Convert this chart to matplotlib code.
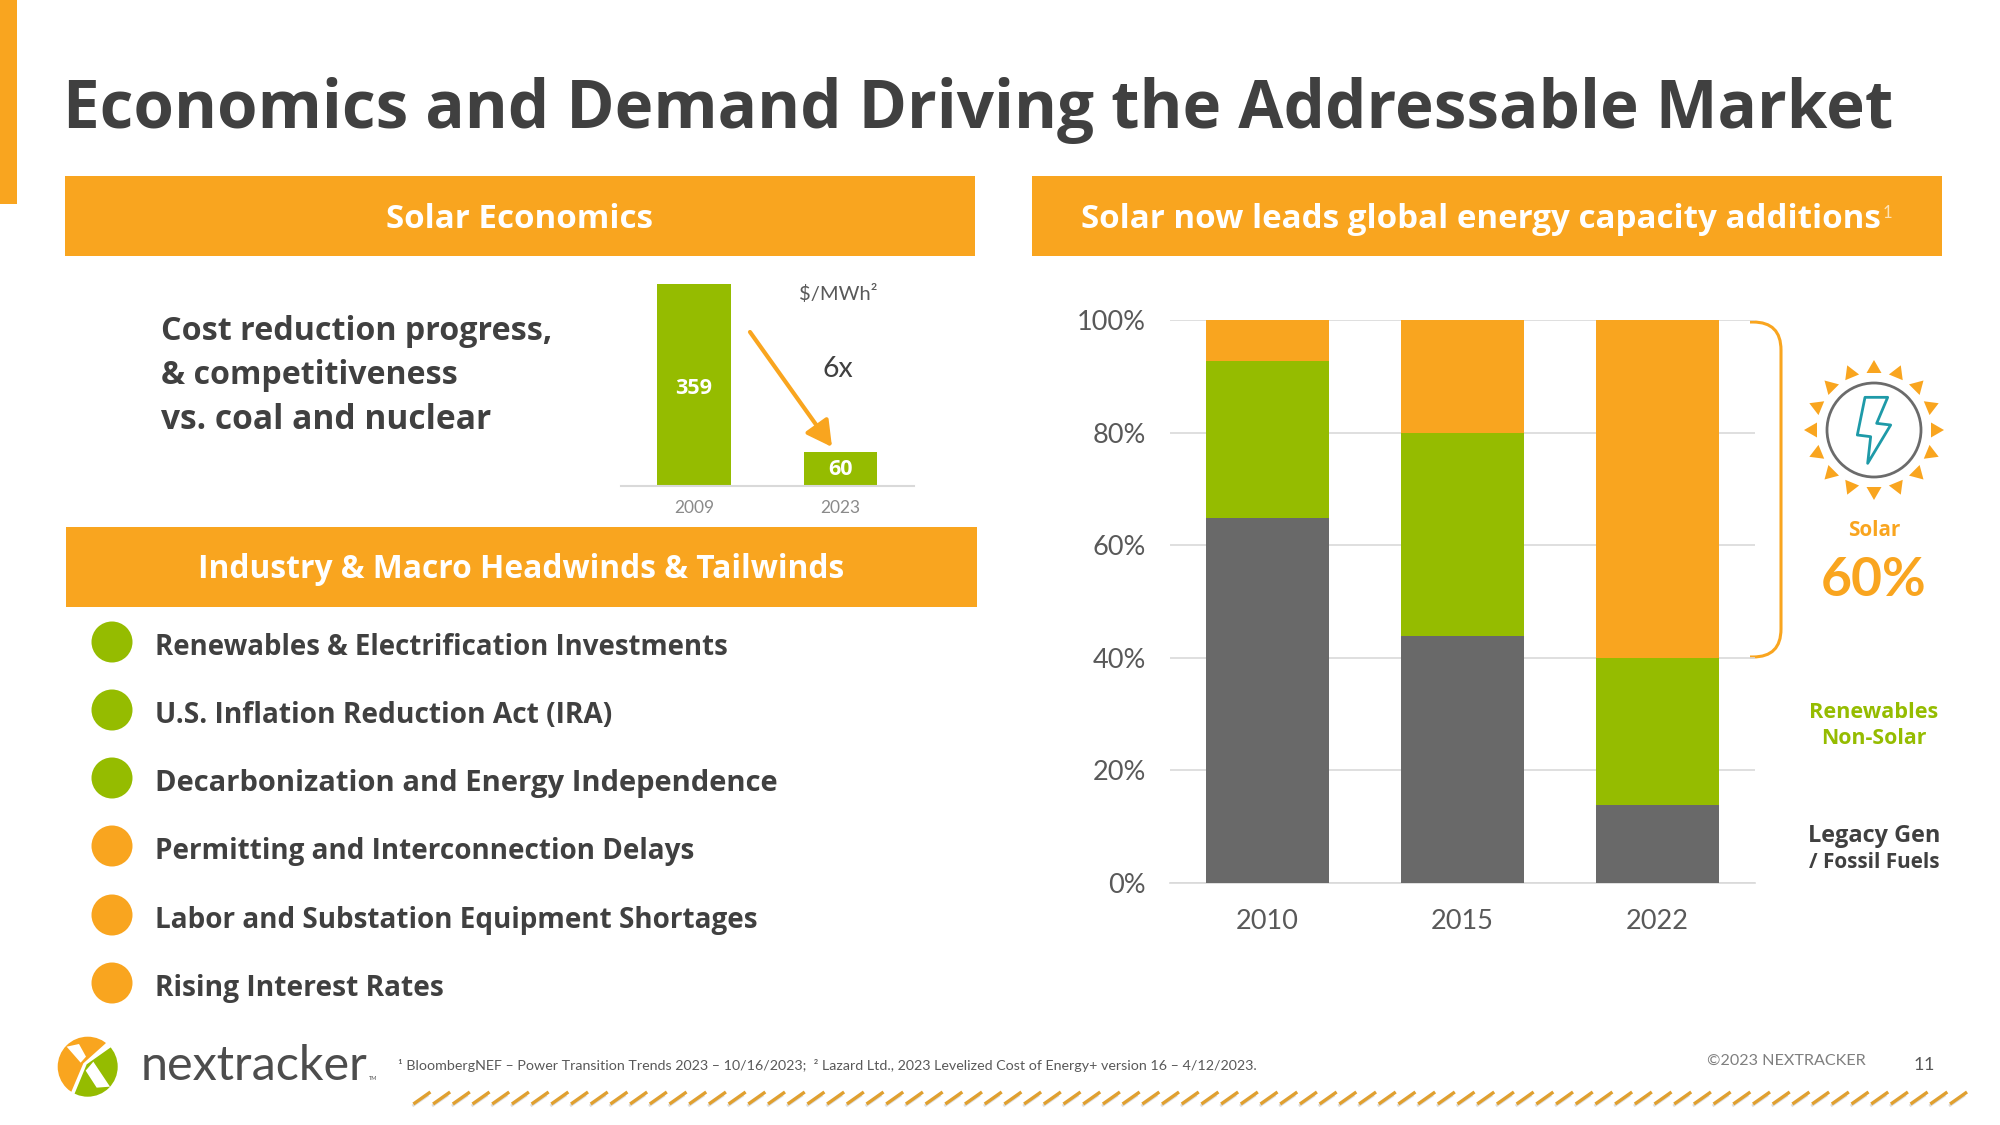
import numpy as np
import matplotlib
matplotlib.use("Agg")
import matplotlib.pyplot as plt
from matplotlib.patches import Rectangle, Circle, Polygon, PathPatch, FancyArrowPatch
from matplotlib.path import Path
from matplotlib.collections import LineCollection

# ---- data ----
years = ["2010", "2015", "2022"]
fossil = [64.8, 43.8, 13.8]
renewables = [27.9, 36.2, 26.2]
solar = [7.3, 20, 60]
pct_ticks = [0, 20, 40, 60, 80, 100]
lcoe_years = ["2009", "2023"]
lcoe_values = [359, 60]
lcoe_label_y = [174, 30]
positive_items = ["Renewables & Electrification Investments",
                  "U.S. Inflation Reduction Act (IRA)",
                  "Decarbonization and Energy Independence"]
negative_items = ["Permitting and Interconnection Delays",
                  "Labor and Substation Equipment Shortages",
                  "Rising Interest Rates"]
positive_widths = [572, 457, 622]
negative_widths = [540, 602, 289]

ORANGE = "#F9A51F"
GREEN = "#95BC00"
GREY = "#696969"
DARK = "#404040"
MID = "#595959"
TEAL = "#1E9AA8"
W, H = 2000, 1125

fig = plt.figure(figsize=(20, 11.25), dpi=100, facecolor="white")
renderer = fig.canvas.get_renderer()


def axes_px(x0, y0, x1, y1, **kw):
    return fig.add_axes([x0 / W, 1 - y1 / H, (x1 - x0) / W, (y1 - y0) / H], **kw)


bg = axes_px(0, 0, W, H)
bg.set_xlim(0, W)
bg.set_ylim(H, 0)
bg.axis("off")


def label(x, y, s, width=None, size=20, color=DARK, ha="center", va="center",
          family="Lato", weight="normal", ax=bg, **kw):
    t = ax.text(x, y, s, fontsize=size, color=color, ha=ha, va=va,
                family=family, weight=weight, **kw)
    if width:
        t.set_fontsize(size * width / t.get_window_extent(renderer).width)
    return t


# ---- frame ----
bg.add_patch(Rectangle((0, 0), 17, 204, color=ORANGE, lw=0))
for x0, y0, x1, y1 in [(65, 176, 975, 256), (1032, 176, 1942, 256), (66, 527, 977, 607)]:
    bg.add_patch(Rectangle((x0, y0), x1 - x0, y1 - y0, color=ORANGE, lw=0))

label(63, 128, "Economics and Demand Driving the Addressable Market", width=1830, ha="left",
      va="baseline", family="Open Sans", weight="bold")
label(519, 219.5, "Solar Economics", width=267, color="white", family="Open Sans", weight="bold")
label(1480.5, 220, "Solar now leads global energy capacity additions", width=801, color="white",
      family="Open Sans", weight="bold")
label(1887, 213, "1", size=12, color="#fde3b8", family="Lato")
label(521.5, 569.5, "Industry & Macro Headwinds & Tailwinds", width=645, color="white",
      family="Open Sans", weight="bold")

# ---- cost block ----
for y, s, w in [(332, "Cost reduction progress,", 391), (376, "& competitiveness", 296),
                (420, "vs. coal and nuclear", 330)]:
    label(161, y, s, width=w, ha="left", family="Open Sans", weight="bold")

ax_small = axes_px(620.5, 270, 914, 486)
ax_small.set_facecolor("none")
x_small = np.arange(len(lcoe_years))
ax_small.bar(x_small, lcoe_values, width=0.5, color=GREEN)
ax_small.set_xlim(-0.5, 1.5)
ax_small.set_ylim(0, 384)
ax_small.set_yticks([])
ax_small.set_xticks(x_small, lcoe_years, fontsize=12.5, color="#8a8a8a", family="Lato")
ax_small.tick_params(axis="x", length=0, pad=10)
for s in ["top", "left", "right"]:
    ax_small.spines[s].set_visible(False)
ax_small.spines["bottom"].set_color("#d9d9d9")
ax_small.spines["bottom"].set_linewidth(1.5)
for xi, v, ly in zip(x_small, lcoe_values, lcoe_label_y):
    ax_small.text(xi, ly, str(v), color="white", ha="center", va="center",
                  fontsize=15.5, family="Open Sans", weight="bold")

label(838, 294, r"\$/MWh²", size=14.5, color=MID)
label(838, 369, "6x", size=20.5, color=DARK)
bg.add_patch(FancyArrowPatch((750, 332), (832, 447), arrowstyle="-|>,head_length=11,head_width=6",
                             color=ORANGE, lw=3, mutation_scale=1.4, shrinkA=0, shrinkB=0, zorder=5))

# ---- bullets ----
bullet_y = [642, 710, 778, 846, 915, 983]
items = positive_items + negative_items
widths = positive_widths + negative_widths
cols = [GREEN] * len(positive_items) + [ORANGE] * len(negative_items)
for y, s, w, c in zip(bullet_y, items, widths, cols):
    bg.add_patch(Circle((112, y), 20.5, color=c, lw=0))
    label(155, y + 5.5, s, width=w, ha="left", family="Open Sans", weight="bold")

# ---- main chart ----
ax = axes_px(1170, 320, 1755, 883)
ax.set_facecolor("none")
x = np.arange(len(years))
fossil_a, ren_a, sol_a = map(np.array, (fossil, renewables, solar))
ax.bar(x, fossil_a, width=0.627, color=GREY, zorder=3)
ax.bar(x, ren_a, width=0.627, bottom=fossil_a, color=GREEN, zorder=3)
ax.bar(x, sol_a, width=0.627, bottom=fossil_a + ren_a, color=ORANGE, zorder=3)
ax.set_xlim(-0.5, 2.5)
ax.set_ylim(0, 100)
ax.set_yticks(pct_ticks, [f"{v}%" for v in pct_ticks], fontsize=19.5, color=MID, family="Lato")
ax.set_xticks(x, years, fontsize=19.5, color=MID, family="Lato")
ax.tick_params(axis="both", length=0)
ax.tick_params(axis="y", pad=17.5)
ax.tick_params(axis="x", pad=19)
ax.grid(axis="y", color="#d9d9d9", lw=1.2, zorder=0)
for s in ["top", "left", "right"]:
    ax.spines[s].set_visible(False)
ax.spines["bottom"].set_color("#d9d9d9")
ax.spines["bottom"].set_linewidth(1.2)

# bracket
r = 28
bx0, bx1, by0, by1 = 1750, 1781, 322, 657
bverts = [(bx0, by0), (bx1 - r, by0), (bx1, by0), (bx1, by0 + r), (bx1, by1 - r), (bx1, by1), (bx1 - r, by1), (bx0, by1)]
bcodes = [Path.MOVETO, Path.LINETO, Path.CURVE3, Path.CURVE3, Path.LINETO, Path.CURVE3, Path.CURVE3, Path.LINETO]
bg.add_patch(PathPatch(Path(bverts, bcodes), fc="none", ec=ORANGE, lw=2.2))

# sun icon
cx, cy = 1874, 430
bg.add_patch(Circle((cx, cy), 47, fc="white", ec="#6b6b6b", lw=2))
for k in range(16):
    a = 2 * np.pi * k / 16
    u = np.array([np.sin(a), -np.cos(a)])
    v = np.array([u[1], -u[0]])
    tip = np.array([cx, cy]) + u * 70
    base = np.array([cx, cy]) + u * 57
    bg.add_patch(Polygon([tip, base + v * 7.5, base - v * 7.5], color=ORANGE, lw=0))
bolt = [(315, 232), (383, 232), (350, 310), (392, 315), (323, 430), (332, 350), (292, 345)]
bolt = [(1760 + a / 3, 320 + b / 3) for a, b in bolt]
bg.add_patch(Polygon(bolt, closed=True, fc="none", ec=TEAL, lw=2, joinstyle="round"))

label(1874, 531, "Solar", width=52, color=ORANGE, family="Open Sans", weight="bold")
label(1874, 581, "60%", width=106, color=ORANGE, family="Lato", weight="bold")
label(1874, 713, "Renewables", width=129, color=GREEN, family="Open Sans", weight="bold")
label(1874, 739, "Non-Solar", width=105, color=GREEN, family="Open Sans", weight="bold")
label(1874, 836, "Legacy Gen", width=133, color=DARK, family="Open Sans", weight="bold")
label(1874, 862, "/ Fossil Fuels", width=131, color=DARK, family="Open Sans", weight="bold")


# ---- footer: logo ----
def zoomed(pts):
    return [(40 + a / 3, 1025 + b / 3) for a, b in pts]


lc, lcy, lr = 87.7, 1066.7, 30
orange_clip = Polygon(zoomed([(30, 20), (205, 20), (197, 55), (130, 115), (92, 205), (30, 205)]),
                      transform=bg.transData)
green_clip = Polygon(zoomed([(250, 30), (215, 65), (140, 118), (100, 215), (250, 240)]),
                     transform=bg.transData)
c1 = Circle((lc, lcy), lr, color=ORANGE, lw=0)
bg.add_patch(c1)
c1.set_clip_path(orange_clip)
c2 = Circle((lc, lcy), lr, color=GREEN, lw=0)
bg.add_patch(c2)
c2.set_clip_path(green_clip)
bg.add_patch(Polygon(zoomed([(80, 65), (117, 57), (138, 95), (122, 113)]), color="white", lw=0))
bg.add_patch(Polygon(zoomed([(137, 137), (160, 110), (210, 185), (170, 188)]), color="white", lw=0))

label(141, 1080, "nextracker", width=228, ha="left", va="baseline", color="#4d4d4d", family="Lato")
label(369, 1078, "TM", size=4, ha="left", color="#4d4d4d")
label(398, 1065,
      "¹ BloombergNEF – Power Transition Trends 2023 – 10/16/2023;  ² Lazard Ltd., 2023 Levelized Cost of Energy+ version 16 – 4/12/2023.",
      width=858, ha="left", color=MID, family="Lato")
label(1707, 1061, "©2023 NEXTRACKER", width=158, ha="left", color="#7f7f7f", family="Lato")
label(1919, 1065, "1", size=13, color=MID, family="Lato")
label(1929, 1065, "1", size=13, color=MID, family="Lato")

dash_x = np.arange(1950, 405, -19.7)
shadow = [[(a - 1, 1106), (a + 15, 1095)] for a in dash_x]
segs = [[(a, 1104), (a + 17, 1092)] for a in dash_x]
bg.add_collection(LineCollection(shadow, colors="#dddddd", linewidths=2))
bg.add_collection(LineCollection(segs, colors="#E0A030", linewidths=2.4))

fig.savefig("out.png", dpi=100, facecolor="white")
